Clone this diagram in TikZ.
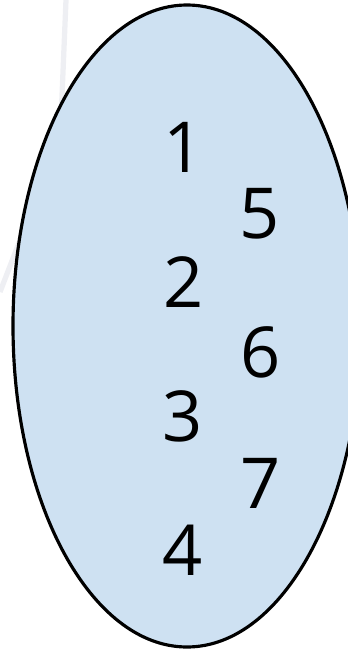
\documentclass[tikz,border=0pt]{standalone}
\usepackage{fontspec}
\setsansfont{Open Sans}
\usepackage{tikz}
\definecolor{setblue}{RGB}{206,225,242}
\definecolor{ghostgray}{RGB}{238,239,243}

\begin{document}
\begin{tikzpicture}[x=0.02cm, y=-0.02cm,
    elem/.style={inner sep=0pt, font=\sffamily\fontsize{40}{48}\selectfont}]
    \useasboundingbox (0,0) rectangle (348,649);

    % Faint traces behind the set
    \draw[ghostgray, line width=3pt] (66,0) -- (61,120);
    \draw[ghostgray, line width=3pt] (22,235) -- (0,292);

    % Draw set
    \draw[fill=setblue, line width=1.8pt] (187,326) ellipse (174 and 321);

    % Draw elements
    \foreach \n/\x/\y in {1/184/147, 2/184/282, 3/183/416, 4/183/550,
                          5/260/214, 6/261/352, 7/261/483} {
        \node[elem] (e\n) at (\x,\y) {\n};
    }
\end{tikzpicture}
\end{document}
